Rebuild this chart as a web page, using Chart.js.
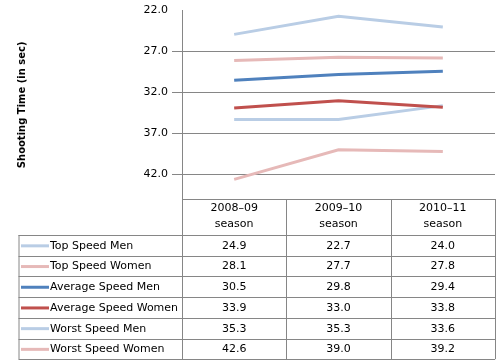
<!DOCTYPE html>
<html>
<head>
<meta charset="utf-8">
<script src="https://cdn.jsdelivr.net/npm/chart.js@4"></script>
<style>
  html, body { margin: 0; padding: 0; background: #fff; }
  #wrap { width: 503px; height: 364px; }
</style>
</head>
<body>
<div id="wrap"><canvas id="shootingChart" width="503" height="364"></canvas></div>
<script>
// DATA
const seasons = [['2008–09', 'season'], ['2009–10', 'season'], ['2010–11', 'season']];
const seriesNames = ['Top Speed Men', 'Top Speed Women', 'Average Speed Men', 'Average Speed Women', 'Worst Speed Men', 'Worst Speed Women'];
const topMen = [24.9, 22.7, 24.0];
const topWomen = [28.1, 27.7, 27.8];
const avgMen = [30.5, 29.8, 29.4];
const avgWomen = [33.9, 33.0, 33.8];
const worstMen = [35.3, 35.3, 33.6];
const worstWomen = [42.6, 39.0, 39.2];
const yTicks = [22, 27, 32, 37, 42];
const yMin = 22, yMax = 45;

const seriesValues = [topMen, topWomen, avgMen, avgWomen, worstMen, worstWomen];
const seriesColors = ['#b9cde5', '#e6b9b8', '#4f81bd', '#c0504d', '#b9cde5', '#e6b9b8'];

const FONT = '"DejaVu Sans", Verdana, sans-serif';
const GRID = '#868686';

// data table drawn under the plot, columns follow the x scale
const dataTable = {
    id: 'dataTable',
    afterDraw(chart) {
        const c = chart.ctx;
        const x = chart.scales.x;
        const area = chart.chartArea;
        const top = area.bottom;
        const headBottom = 235;
        const rowH = 20.7;
        const tableLeft = 18.5;
        const step = x.getPixelForValue(1) - x.getPixelForValue(0);
        const bounds = [area.left];
        for (let i = 0; i < seasons.length - 1; i++) {
            bounds.push(x.getPixelForValue(i) + step / 2);
        }
        bounds.push(area.right);
        const bottom = headBottom + rowH * seriesNames.length;

        c.save();
        c.strokeStyle = GRID;
        c.lineWidth = 1;
        c.beginPath();
        c.moveTo(area.left, top + 0.5); c.lineTo(area.right, top + 0.5);
        bounds.forEach(b => { c.moveTo(Math.round(b) + 0.5, top); c.lineTo(Math.round(b) + 0.5, bottom); });
        c.moveTo(tableLeft, headBottom + 0.5); c.lineTo(area.right, headBottom + 0.5);
        c.moveTo(tableLeft + 0.5, headBottom); c.lineTo(tableLeft + 0.5, bottom);
        for (let r = 1; r <= seriesNames.length; r++) {
            const yy = Math.round(headBottom + rowH * r) + 0.5;
            c.moveTo(tableLeft, yy); c.lineTo(area.right, yy);
        }
        c.stroke();

        c.fillStyle = '#000';
        c.font = '11px ' + FONT;
        c.textAlign = 'center';
        c.textBaseline = 'middle';
        seasons.forEach((s, i) => {
            const cx = x.getPixelForValue(i);
            c.fillText(s[0], cx, 208.5);
            c.fillText(s[1], cx, 224.5);
        });
        seriesNames.forEach((name, r) => {
            const cy = headBottom + rowH * r + rowH / 2 + 0.5;
            c.strokeStyle = seriesColors[r];
            c.lineWidth = 3;
            c.beginPath();
            c.moveTo(21, cy); c.lineTo(49, cy);
            c.stroke();
            c.textAlign = 'left';
            c.fillText(name, 50, cy);
            c.textAlign = 'center';
            seriesValues[r].forEach((v, i) => c.fillText(v.toFixed(1), x.getPixelForValue(i), cy));
        });
        c.restore();
    }
};

const ctx = document.getElementById('shootingChart');

new Chart(ctx, {
    type: 'line',
    data: {
        labels: seasons.map(s => s.join(' ')),
        datasets: seriesNames.map((name, i) => ({
            label: name,
            data: seriesValues[i],
            borderColor: seriesColors[i],
            backgroundColor: seriesColors[i],
            borderWidth: 3,
            pointRadius: 0,
            tension: 0,
            fill: false
        }))
    },
    options: {
        responsive: false,
        animation: false,
        layout: { padding: { top: 10, right: 8, bottom: 165, left: 0 } },
        plugins: {
            legend: { display: false },
            tooltip: { enabled: false }
        },
        scales: {
            x: {
                display: false,
                offset: true
            },
            y: {
                reverse: true,
                min: yMin,
                max: yMax,
                afterBuildTicks: axis => { axis.ticks = yTicks.map(v => ({ value: v })); },
                afterFit: axis => { axis.width = 182; },
                border: { color: GRID, width: 1 },
                grid: {
                    color: c => c.tick && c.tick.value === yMin ? 'rgba(0,0,0,0)' : GRID,
                    tickLength: 10,
                    lineWidth: 1
                },
                ticks: {
                    color: '#000',
                    font: { family: FONT, size: 11 },
                    padding: 4,
                    callback: v => Number(v).toFixed(1)
                },
                title: {
                    display: true,
                    text: 'Shooting Time (in sec)',
                    color: '#000',
                    font: { family: FONT, size: 10, weight: 'bold' },
                    padding: { top: 16, bottom: 0 }
                }
            }
        }
    },
    plugins: [dataTable]
});
</script>
</body>
</html>
